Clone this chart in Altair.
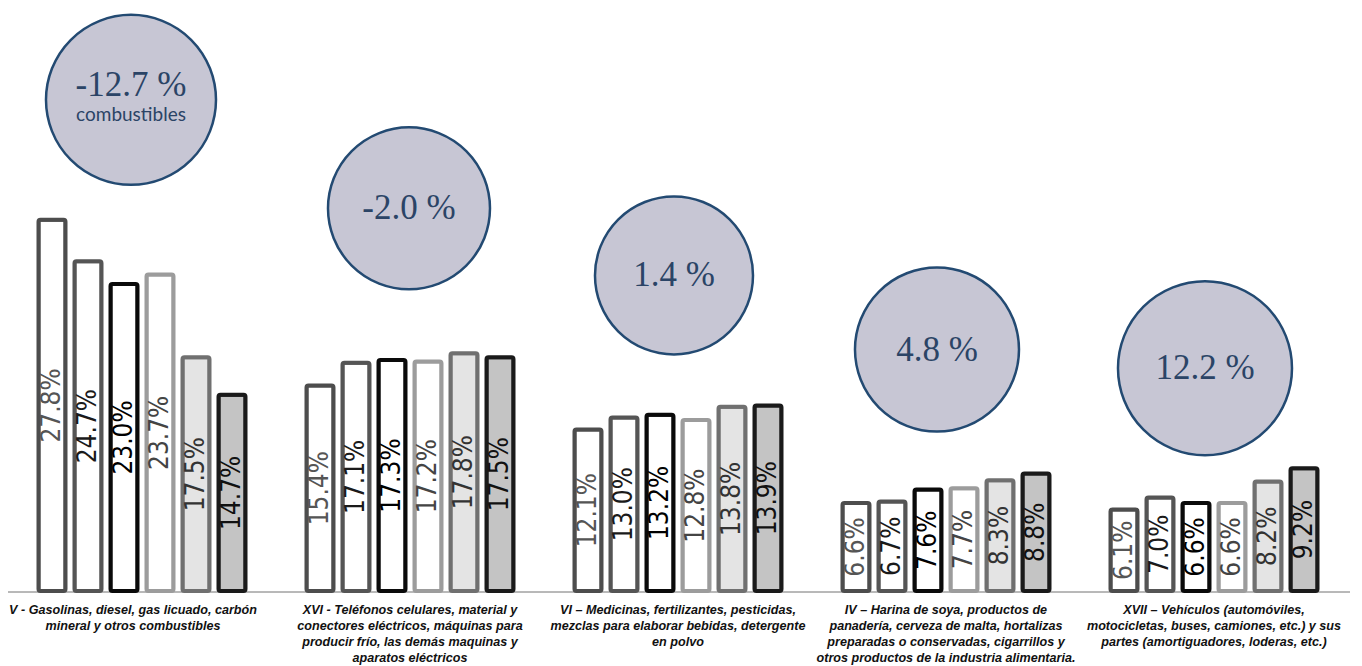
import altair as alt
import pandas as pd

# ---------------- data ----------------
groups = [
    "V - Gasolinas, diesel, gas licuado, carbón\nmineral y otros combustibles",
    "XVI - Teléfonos celulares, material y\nconectores eléctricos, máquinas para\nproducir frío,  las demás maquinas y\naparatos eléctricos",
    "VI – Medicinas, fertilizantes, pesticidas,\nmezclas para elaborar bebidas, detergente\nen polvo",
    "IV – Harina de soya,  productos de\npanadería, cerveza de malta, hortalizas\npreparadas o conservadas, cigarrillos y\notros productos de la industria alimentaria.",
    "XVII – Vehículos (automóviles,\nmotocicletas, buses, camiones, etc.) y sus\npartes (amortiguadores, loderas, etc.)",
]
series = ["Serie 1", "Serie 2", "Serie 3", "Serie 4", "Serie 5", "Serie 6"]
serie_1 = [27.8, 15.4, 12.1, 6.6, 6.1]
serie_2 = [24.7, 17.1, 13.0, 6.7, 7.0]
serie_3 = [23.0, 17.3, 13.2, 7.6, 6.6]
serie_4 = [23.7, 17.2, 12.8, 7.7, 6.6]
serie_5 = [17.5, 17.8, 13.8, 8.3, 8.2]
serie_6 = [14.7, 17.5, 13.9, 8.8, 9.2]
variacion = ["-12.7 %", "-2.0 %", "1.4 %", "4.8 %", "12.2 %"]
variacion_nota = ["combustibles", "", "", "", ""]

# ---------------- layout / style ----------------
PLOT_W, PLOT_H = 1340, 583
Y_MAX = 43.67
PX_PER_UNIT = PLOT_H / Y_MAX
HALF_BAND = 108  # half of the group band width (px)
circle_lift_px = [120, 145, 130, 124, 100]
circle_r_px = [85, 81, 79, 82, 87]
circle_dx_px = [-11, -1, -4, -9, -9]
label_dx_px = [-9, 0, 0, 0, 0]

fills = ["#ffffff", "#ffffff", "#ffffff", "#ffffff", "#e4e4e4", "#c4c4c4"]
strokes = ["#4d4d4d", "#555555", "#0a0a0a", "#9c9c9c", "#707070", "#1a1a1a"]
label_colors = ["#555555", "#1a1a1a", "#000000", "#444444", "#333333", "#111111"]

all_series = [serie_1, serie_2, serie_3, serie_4, serie_5, serie_6]
rows = []
for si, (sname, vals) in enumerate(zip(series, all_series)):
    for gi, g in enumerate(groups):
        rows.append({"grp": g, "serie": sname, "v": vals[gi],
                     "lbl": f"{vals[gi]:.1f}%"})
bars_df = pd.DataFrame(rows)

crow = []
for gi, g in enumerate(groups):
    mx = max(s[gi] for s in all_series)
    cy = mx + circle_lift_px[gi] / PX_PER_UNIT
    has_note = variacion_nota[gi] != ""
    crow.append({
        "grp": g, "cy": cy,
        "size": (2 * circle_r_px[gi]) ** 2,
        "dx": circle_dx_px[gi] + HALF_BAND,
        "ldx": label_dx_px[gi] + HALF_BAND,
        "txt": variacion[gi],
        "ty": cy + (15 / PX_PER_UNIT if has_note else 0),
        "note": variacion_nota[gi],
        "ny": cy - 15 / PX_PER_UNIT,
    })
circ_df = pd.DataFrame(crow)

xscale = alt.Scale(domain=groups, paddingInner=0.194, paddingOuter=0.097)
yscale = alt.Scale(domain=[0, Y_MAX], nice=False, zero=True)
X = alt.X("grp:N", scale=xscale, axis=None)
off_scale = alt.Scale(paddingInner=0.25, paddingOuter=0.125)

base = alt.Chart(bars_df)

bars = base.mark_bar(strokeWidth=4, cornerRadius=2).encode(
    x=X,
    xOffset=alt.XOffset("serie:N", sort=series, scale=off_scale),
    y=alt.Y("v:Q", scale=yscale, axis=None),
    fill=alt.Fill("serie:N", scale=alt.Scale(domain=series, range=fills), legend=None),
    stroke=alt.Stroke("serie:N", scale=alt.Scale(domain=series, range=strokes), legend=None),
)

bar_labels = base.transform_calculate(mid="datum.v / 2").mark_text(
    angle=270, align="center", baseline="middle",
    font="Liberation Sans Narrow, DejaVu Sans Condensed, sans-serif",
    fontSize=26,
).encode(
    x=X,
    xOffset=alt.XOffset("serie:N", sort=series, scale=off_scale),
    y=alt.Y("mid:Q", scale=yscale, axis=None),
    text="lbl:N",
    color=alt.Color("serie:N", scale=alt.Scale(domain=series, range=label_colors), legend=None),
)

axis_line = alt.Chart(bars_df).mark_rule(color="#b8b8b8", strokeWidth=1).encode(
    x=alt.value(0), x2=alt.value(1342), y=alt.value(PLOT_H + 1)
)

cbase = alt.Chart(circ_df)
circles = cbase.mark_point(shape="circle", filled=True, fill="#c7c6d4",
                           stroke="#234a72", strokeWidth=2.5, opacity=1).encode(
    x=X,
    xOffset=alt.XOffset("dx:Q", scale=None),
    y=alt.Y("cy:Q", scale=yscale, axis=None),
    size=alt.Size("size:Q", scale=None, legend=None),
)
circle_text = cbase.mark_text(font="Liberation Serif", fontSize=35,
                              color="#2b4466", baseline="middle", align="center").encode(
    x=X,
    xOffset=alt.XOffset("dx:Q", scale=None),
    y=alt.Y("ty:Q", scale=yscale, axis=None),
    text="txt:N",
)
circle_note = cbase.mark_text(font="Lato", fontSize=19,
                              color="#2b4466", baseline="middle", align="center").encode(
    x=X,
    xOffset=alt.XOffset("dx:Q", scale=None),
    y=alt.Y("ny:Q", scale=yscale, axis=None),
    text="note:N",
)

cat_labels = cbase.mark_text(
    font="Liberation Sans", fontSize=12.6, fontWeight="bold", fontStyle="italic",
    lineBreak="\n", lineHeight=16, baseline="top", align="center", color="#111111",
).encode(
    x=X,
    xOffset=alt.XOffset("ldx:Q", scale=None),
    y=alt.value(PLOT_H + 13),
    text="grp:N",
)

chart = alt.layer(axis_line, bars, bar_labels, circles, circle_text, circle_note, cat_labels).properties(
    width=PLOT_W, height=PLOT_H,
    autosize=alt.AutoSizeParams(type="none"),
    padding={"left": 0, "top": 0, "right": 6, "bottom": 75},
).configure_view(stroke=None)

chart.save("out.html", embed_options={"renderer": "svg", "actions": False})
